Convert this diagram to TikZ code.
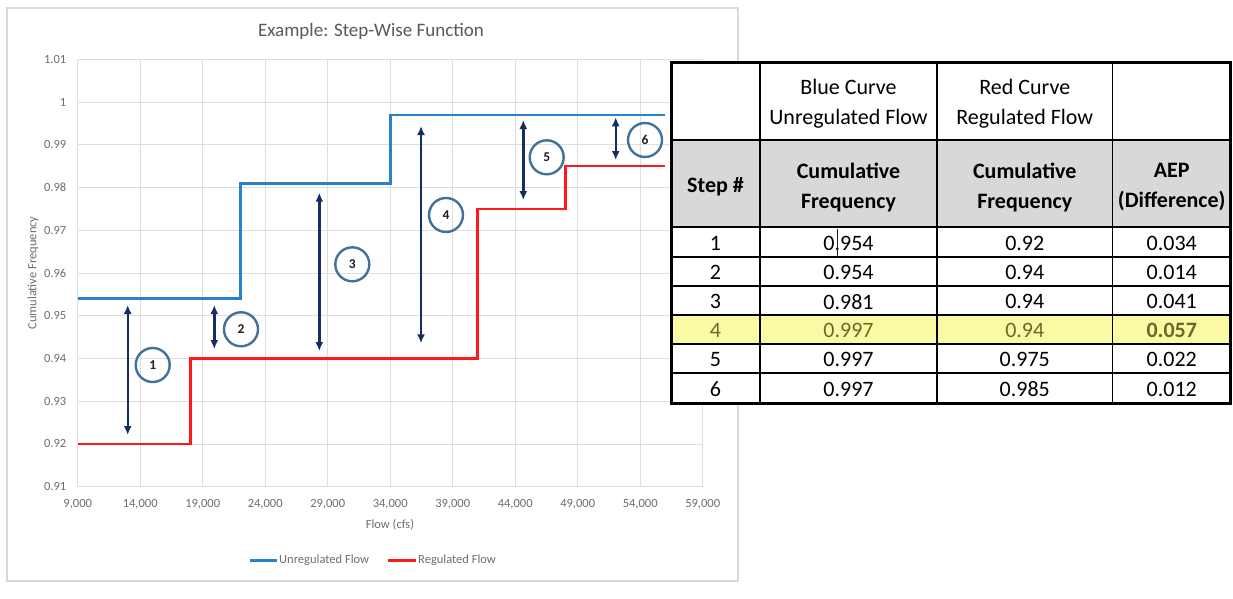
\documentclass[tikz,border=0pt]{standalone}
\usepackage{fontspec}
\setmainfont{Carlito}
\usetikzlibrary{arrows.meta}
\definecolor{gridgray}{RGB}{222,222,222}
\definecolor{framegray}{RGB}{217,217,217}
\definecolor{axisgray}{RGB}{110,110,110}
\definecolor{titlegray}{RGB}{89,89,89}
\definecolor{curveblue}{RGB}{40,130,205}
\definecolor{curvered}{RGB}{255,25,25}
\definecolor{navy}{RGB}{22,44,100}
\definecolor{steel}{RGB}{65,113,156}
\definecolor{darktext}{RGB}{30,30,30}
\definecolor{hdrgray}{RGB}{216,216,216}
\definecolor{hiyellow}{RGB}{250,250,165}
\definecolor{olivetext}{RGB}{105,105,40}
\tikzset{
  gridline/.style={draw=gridgray, line width=0.9},
  bluecurve/.style={draw=curveblue, line width=2.6},
  redcurve/.style={draw=curvered, line width=2.6},
  gaparrow/.style={draw=navy, line width=2.4, {Latex[length=9,width=8]}-{Latex[length=9,width=8]}},
  badge/.style={circle, draw=steel, line width=2.4, minimum size=34, inner sep=0,
                font=\fontsize{13.5}{13.5}\selectfont\bfseries, text=darktext},
  ticklabel/.style={font=\fontsize{12.5}{13}\selectfont, text=axisgray, inner sep=0},
  cell/.style={font=\fontsize{22}{30}\selectfont, align=center, inner sep=0, text=black},
  boldcell/.style={cell, font=\fontsize{22}{30}\selectfont\bfseries},
  hicell/.style={cell, text=olivetext},
  thickrule/.style={draw=black, line width=3},
  rule/.style={draw=black, line width=1.8},
}
\begin{document}
\begin{tikzpicture}[x=1pt, y=-1pt]
\useasboundingbox (0,0) rectangle (1233,599);
\fill[white] (0,0) rectangle (1233,599);

% chart frame
\draw[draw=framegray, line width=1.2] (7,8) rectangle (738,581);
\node[font=\fontsize{19}{19}\selectfont, text=titlegray] (title) at (371,31) {Example: Step-Wise Function};

% grid
\foreach \i in {0,...,10} {
  \draw[gridline] ({77.7+\i*62.5},59.3) -- ({77.7+\i*62.5},486.7);
  \draw[gridline] (77.7,{486.7-\i*42.74}) -- (702.7,{486.7-\i*42.74});
}
% y tick labels
\foreach \i/\lab in {0/0.91,1/0.92,2/0.93,3/0.94,4/0.95,5/0.96,6/0.97,7/0.98,8/0.99,9/1,10/1.01} {
  \node[ticklabel, anchor=east] (yl\i) at (66.5,{486.7-\i*42.74}) {\lab};
}
% x tick labels
\foreach \i/\lab in {0/{9,000},1/{14,000},2/{19,000},3/{24,000},4/{29,000},5/{34,000},6/{39,000},7/{44,000},8/{49,000},9/{54,000},10/{59,000}} {
  \node[ticklabel] (xl\i) at ({77.7+\i*62.5},504) {\lab};
}
\node[ticklabel] (xtitle) at (390,525) {Flow (cfs)};
\node[ticklabel, rotate=90] (ytitle) at (33,273) {Cumulative Frequency};

% curves
\draw[bluecurve] (77.7,298.6) -- (240.2,298.6) -- (240.2,183.2) -- (390.2,183.2)
  -- (390.2,114.9) -- (665.2,114.9);
\draw[redcurve] (77.7,444) -- (190.2,444) -- (190.2,358.5) -- (477.7,358.5)
  -- (477.7,208.9) -- (565.2,208.9) -- (565.2,166.1) -- (665.2,166.1);

% gap arrows
\coordinate (g1t) at (127.7,305);   \coordinate (g1b) at (127.7,435);
\coordinate (g2t) at (214.3,305);   \coordinate (g2b) at (214.3,349);
\coordinate (g3t) at (319.3,192.7); \coordinate (g3b) at (319.3,351);
\coordinate (g4t) at (421,126);     \coordinate (g4b) at (421,343.3);
\coordinate (g5t) at (523.3,120);   \coordinate (g5b) at (523.3,200);
\coordinate (g6t) at (615.7,117.3); \coordinate (g6b) at (615.7,160);
\foreach \k in {1,...,6} { \draw[gaparrow] (g\k t) -- (g\k b); }

% badges
\node[badge] (b1) at (152.7,365) {1};
\node[badge] (b2) at (241,329.3) {2};
\node[badge] (b3) at (352.3,264.3) {3};
\node[badge] (b4) at (446,215) {4};
\node[badge] (b5) at (546.7,157.3) {5};
\node[badge] (b6) at (645,140) {6};

% legend
\coordinate (lb1) at (250,560.7); \coordinate (lb2) at (277,560.7);
\draw[bluecurve] (lb1) -- (lb2);
\node[ticklabel, anchor=west] (lbt) at (279,560.7) {Unregulated Flow};
\coordinate (lr1) at (388,560.7); \coordinate (lr2) at (416,560.7);
\draw[redcurve] (lr1) -- (lr2);
\node[ticklabel, anchor=west] (lrt) at (418,560.7) {Regulated Flow};

% table
\fill[white] (671,62.7) rectangle (1231,403);
\fill[hdrgray] (671,140) rectangle (1231,227);
\fill[hiyellow] (671,315) rectangle (1231,344);
\foreach \yy in {285.7,315,344,373} { \draw[rule] (671,\yy) -- (1231,\yy); }
\draw[draw=black, line width=1.5] (671,140) -- (1231,140);
\draw[draw=black, line width=2.6] (671,227) -- (1231,227);
\draw[draw=black, line width=2.4] (671,256.7) -- (1231,256.7);
\foreach \xx in {760,937,1112.5} { \draw[rule] (\xx,62.7) -- (\xx,403); }
\draw[thickrule] (671,62.7) rectangle (1230.5,403);

\node[cell] (h12) at (848.5,104) {Blue Curve\\Unregulated Flow};
\node[cell] (h13) at (1024.75,104) {Red Curve\\Regulated Flow};
\node[boldcell] (h21) at (715.5,187) {Step \#};
\node[boldcell] (h22) at (848.5,187) {Cumulative\\Frequency};
\node[boldcell] (h23) at (1024.75,187) {Cumulative\\Frequency};
\node[boldcell] (h24) at (1171.75,187) {AEP\\(Difference)};

\foreach \r/\yy/\s/\u/\v/\d in {1/243.2/1/0.954/0.92/0.034, 2/272.4/2/0.954/0.94/0.014,
    3/301.6/3/0.981/0.94/0.041, 5/359.8/5/0.997/0.975/0.022, 6/389.2/6/0.997/0.985/0.012} {
  \node[cell] (r\r c1) at (715.5,\yy) {\s};
  \node[cell] (r\r c2) at (848.5,\yy) {\u};
  \node[cell] (r\r c3) at (1024.75,\yy) {\v};
  \node[cell] (r\r c4) at (1171.75,\yy) {\d};
}
\node[hicell] (r4c1) at (715.5,330.7) {4};
\node[hicell] (r4c2) at (848.5,330.7) {0.997};
\node[hicell] (r4c3) at (1024.75,330.7) {0.94};
\node[hicell, font=\fontsize{22}{30}\selectfont\bfseries] (r4c4) at (1171.75,330.7) {0.057};
% text cursor in row 1
\draw[draw=darktext, line width=0.8] (837.3,229) -- (837.3,257.5);
\end{tikzpicture}
\end{document}
